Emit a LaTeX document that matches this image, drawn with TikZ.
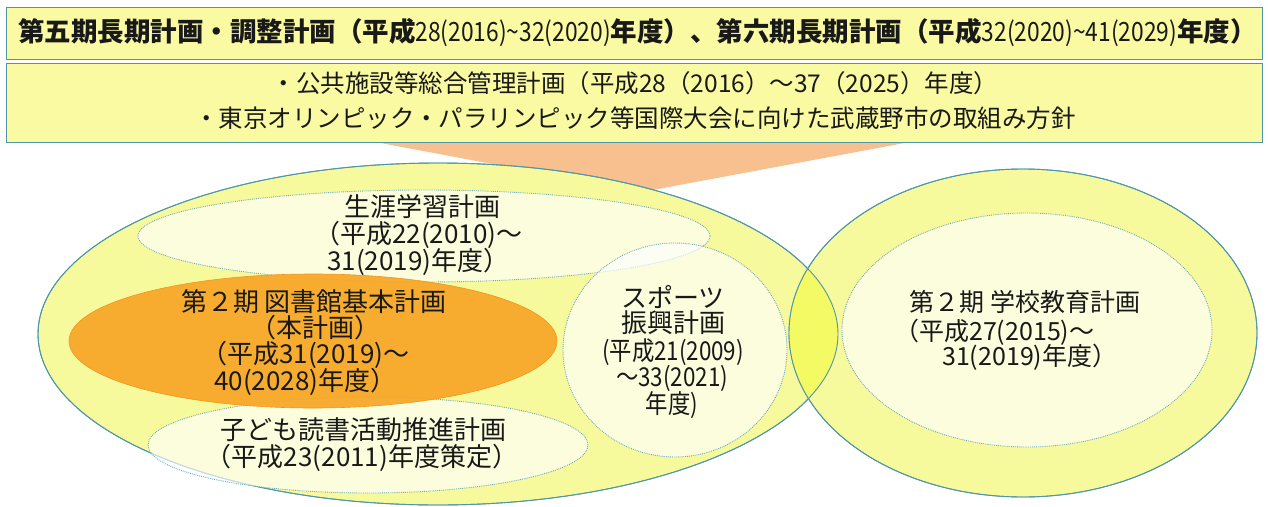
\documentclass[tikz,border=0pt]{standalone}
\usepackage{fontspec}
\usepackage{graphicx}
\setmainfont{Noto Sans CJK JP}
\usetikzlibrary{shapes.geometric}
\definecolor{boxfill}{RGB}{250,250,162}
\definecolor{tealb}{RGB}{78,150,168}
\definecolor{bigfill}{RGB}{247,250,156}
\definecolor{ovl}{RGB}{243,250,100}
\definecolor{peach}{RGB}{248,192,142}
\definecolor{orng}{RGB}{247,168,42}
\definecolor{orngb}{RGB}{240,150,30}
\newcommand\nr[1]{\scalebox{0.86}[1]{#1}}
\tikzset{
  box/.style={draw=tealb, line width=1pt, fill=boxfill, inner sep=0},
  bigell/.style={ellipse, draw=tealb, line width=0.9pt, fill=bigfill, inner sep=0},
  inell/.style={ellipse, draw=tealb!80, densely dotted, line width=0.9pt, fill=white, fill opacity=0.66, inner sep=0},
  orell/.style={ellipse, draw=orngb, line width=0.6pt, fill=orng, fill opacity=0.95, inner sep=0},
  txt/.style={inner sep=0, text=black!90},
  t26/.style={txt, font=\fontsize{26}{28}\selectfont},
  t25/.style={txt, font=\fontsize{25}{27}\selectfont},
  t24/.style={txt, font=\fontsize{24.5}{26}\selectfont},
}
\begin{document}
\begin{tikzpicture}[x=1pt,y=-1pt]
\useasboundingbox (0,0) rectangle (1268,506);
% peach arrow
\fill[peach] (375,142) -- (910,142) -- (642,192) -- cycle;
% top boxes
\node[box, minimum width=1256pt, minimum height=52pt] (title) at (634,33) {};
\node[box, minimum width=1256pt, minimum height=79pt] (sub) at (634,102.5) {};
\node[txt, anchor=west, font=\bfseries\fontsize{26.5}{28}\selectfont] (tt) at (18,33)
  {第五期長期計画・調整計画（平成\nr{\mdseries 28(2016)\textasciitilde32(2020)}年度）、第六期長期計画（平成\nr{\mdseries 32(2020)\textasciitilde41(2029)}年度）};
\node[t24] (s1) at (635,83) {・公共施設等総合管理計画（平成28（2016）～37（2025）年度）};
\node[t24] (s2) at (635,118) {・東京オリンピック・パラリンピック等国際大会に向けた武蔵野市の取組み方針};
% big ellipses
\node[bigell, minimum width=800pt, minimum height=342pt] (L) at (438,334) {};
\node[bigell, minimum width=468pt, minimum height=328pt] (R) at (1023,333) {};
\begin{scope}
  \clip (438,334) ellipse [x radius=400pt, y radius=171pt];
  \fill[ovl] (1023,333) ellipse [x radius=234pt, y radius=164pt];
\end{scope}
\draw[tealb, line width=0.9pt] (438,334) ellipse [x radius=400pt, y radius=171pt];
\draw[tealb, line width=0.9pt] (1023,333) ellipse [x radius=234pt, y radius=164pt];
% inner ellipses
\node[inell, minimum width=572pt, minimum height=92pt] (sg) at (424,236) {};
\node[inell, minimum width=224pt, minimum height=214pt] (sp) at (675,350) {};
\node[inell, minimum width=440pt, minimum height=96pt] (kd) at (368,445) {};
\node[inell, minimum width=370pt, minimum height=234pt] (gk) at (1027,330) {};
\node[orell, minimum width=488pt, minimum height=134pt] (lib) at (313,341) {};
% texts
\node[t26] (sg1) at (422,207) {生涯学習計画};
\node[t26, anchor=west] (sg2) at (314,235) {（平成22(2010)～};
\node[t26, anchor=west] (sg3) at (327,262) {31(2019)年度）};
\node[t26] (lb1) at (314,302) {第２期 図書館基本計画};
\node[t26] (lb2) at (315,328) {（本計画）};
\node[t26, anchor=west] (lb3) at (201,355) {（平成31(2019)～};
\node[t26, anchor=west] (lb4) at (214,382) {40(2028)年度）};
\node[t26] (kd1) at (363,430) {子ども読書活動推進計画};
\node[t26] (kd2) at (362,458) {（平成23(2011)年度策定）};
\node[t26] (sp1) at (673,297) {スポーツ};
\node[t26] (sp2) at (673,323) {振興計画};
\node[t26] (sp3) at (673,352) {\nr{(平成21(2009)}};
\node[t26] (sp4) at (672,378) {\nr{～33(2021)}};
\node[t26] (sp5) at (672,405) {\nr{年度)}};
\node[t25] (gk1) at (1025,302) {第２期 学校教育計画};
\node[t25, anchor=west] (gk2) at (894,332) {（平成27(2015)～};
\node[t25, anchor=west] (gk3) at (942,357) {31(2019)年度）};
\end{tikzpicture}
\end{document}
